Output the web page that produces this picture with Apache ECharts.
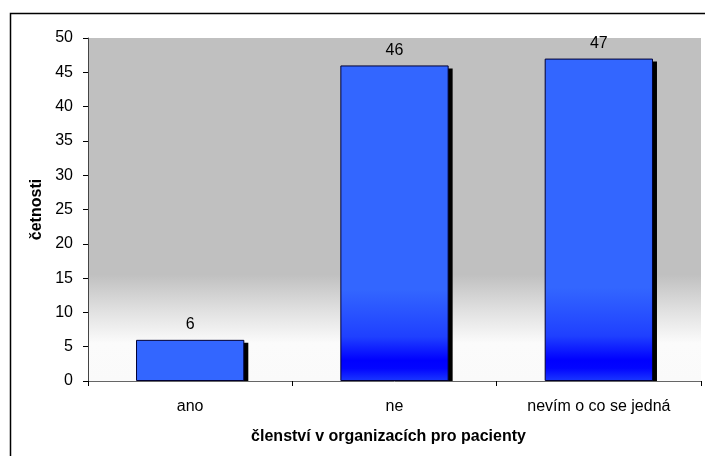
<!DOCTYPE html>
<html>
<head>
<meta charset="utf-8">
<script src="https://cdn.jsdelivr.net/npm/echarts@6/dist/echarts.min.js"></script>
<style>
  html, body { margin: 0; padding: 0; background: #fff; }
  #chart { width: 705px; height: 456px; }
</style>
</head>
<body>
<div id="chart"></div>
<script>
// Členství respondentů v organizacích pro pacienty
const categories = ['ano', 'ne', 'nevím o co se jedná'];
const counts = [6, 46, 47];
const yTicks = { min: 0, max: 50, interval: 5 };

const FONT = '"Liberation Sans", Arial, sans-serif';
const BAR_RATIO = 0.53;

// Sloupce: vysoké s tmavnoucím dolním okrajem, nízký jednobarevný
const barGradient = new echarts.graphic.LinearGradient(0, 0, 0, 1, [
  { offset: 0, color: '#3366FF' },
  { offset: 0.71, color: '#3366FF' },
  { offset: 0.86, color: '#1f40ff' },
  { offset: 0.935, color: '#0000FF' },
  { offset: 0.96, color: '#0205FF' },
  { offset: 1, color: '#1a38ff' }
]);
const barData = counts.map(v => ({
  value: v,
  itemStyle: { color: v > 10 ? barGradient : '#3366FF' }
}));

const chart = echarts.init(document.getElementById('chart'), null, { renderer: 'canvas' });

chart.setOption({
  animation: false,
  backgroundColor: '#ffffff',
  textStyle: { fontFamily: FONT },
  graphic: [{
    type: 'rect',
    left: 8, top: 11,
    shape: { width: 720, height: 470 },
    style: { fill: 'none', stroke: '#000', lineWidth: 1.5 },
    z: 100
  }],
  grid: { left: 88, top: 38, right: 4, bottom: 75, containLabel: false,
          show: true, borderWidth: 0,
          backgroundColor: new echarts.graphic.LinearGradient(0, 0, 0, 1, [
            { offset: 0, color: '#C0C0C0' },
            { offset: 0.69, color: '#C0C0C0' },
            { offset: 0.80, color: '#e2e2e2' },
            { offset: 0.89, color: '#fbfbfb' },
            { offset: 1, color: '#fafafa' }
          ]) },
  xAxis: {
    type: 'category',
    data: categories,
    boundaryGap: true,
    name: 'členství v organizacích pro pacienty',
    nameLocation: 'middle',
    nameGap: 48,
    nameTextStyle: { fontFamily: FONT, fontSize: 16, fontWeight: 'bold', color: '#000', padding: [0, 12, 0, 0] },
    axisLine: { lineStyle: { color: '#666', width: 1 } },
    axisTick: { show: true, length: 5, inside: false, lineStyle: { color: '#000' } },
    axisLabel: { fontFamily: FONT, fontSize: 16, color: '#000', margin: 18 }
  },
  yAxis: {
    type: 'value',
    min: yTicks.min, max: yTicks.max, interval: yTicks.interval,
    name: 'četnosti',
    nameLocation: 'middle',
    nameGap: 43,
    nameRotate: 90,
    nameTextStyle: { fontFamily: FONT, fontSize: 16, fontWeight: 'bold', color: '#000' },
    axisLine: { show: true, lineStyle: { color: '#444', width: 1 } },
    axisTick: { show: true, length: 5, inside: false, lineStyle: { color: '#000' } },
    axisLabel: { fontFamily: FONT, fontSize: 16, color: '#000', margin: 15 },
    splitLine: { show: false }
  },
  series: [
    {
      // černý stín posunutý doprava a dolů, oříznutý na ose x
      type: 'custom',
      z: 1,
      silent: true,
      data: counts.map((v, i) => [i, v]),
      renderItem: function (params, api) {
        const top = api.coord([api.value(0), api.value(1)]);
        const base = api.coord([api.value(0), 0]);
        const w = api.size([1, 0])[0] * BAR_RATIO;
        const dx = 4, dy = 3;
        return {
          type: 'rect',
          shape: { x: top[0] - w / 2 + dx, y: top[1] + dy, width: w, height: base[1] - top[1] - dy },
          style: { fill: '#000' }
        };
      }
    },
    {
      type: 'bar',
      z: 2,
      data: barData,
      barWidth: (BAR_RATIO * 100) + '%',
      itemStyle: { borderColor: '#000033', borderWidth: 1 },
      label: {
        show: true, position: 'top', distance: 7,
        fontFamily: FONT, fontSize: 16, color: '#000'
      }
    }
  ]
});
</script>
</body>
</html>
